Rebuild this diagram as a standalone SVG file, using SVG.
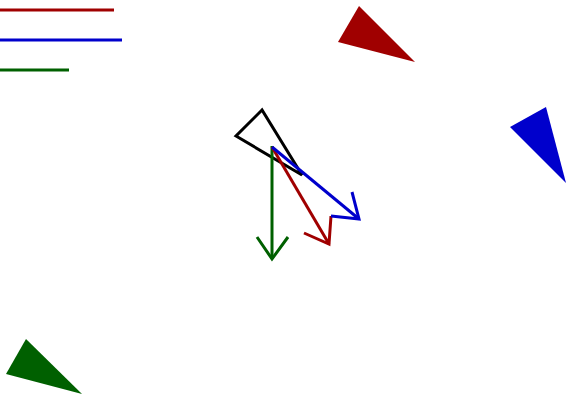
<svg xmlns="http://www.w3.org/2000/svg" width="566" height="395" viewBox="0 0 566 395">
<style>
.s{fill:none;stroke-width:3;stroke-linecap:butt;stroke-linejoin:miter}
.r{stroke:#a00000}.b{stroke:#0000cc}.g{stroke:#006000}.k{stroke:#000}
</style>
<rect width="566" height="395" fill="#fff"/>
<g id="legend">
<line class="s r" x1="0" y1="10" x2="114" y2="10"/>
<line class="s b" x1="0" y1="40" x2="122" y2="40"/>
<line class="s g" x1="0" y1="70" x2="69" y2="70"/>
</g>
<g id="red-triangle"><polygon points="359,6 338,42 415,62" fill="#a00000"/></g>
<g id="blue-triangle"><polygon points="546,107 510,127 566,183" fill="#0000cc"/></g>
<g id="green-triangle"><polygon points="26,339 6,374 82,394" fill="#006000"/></g>
<g id="black-triangle"><polygon class="s k" points="262,110 236,136 302,175"/></g>
<g id="connectors">
<line class="s g" x1="272" y1="146" x2="272" y2="259"/>
<polyline class="s g" points="257,237 272,259 288,237"/>
<line class="s r" x1="272" y1="147" x2="329" y2="244"/>
<polyline class="s r" points="304,233 329,244 331,216"/>
<line class="s b" x1="272" y1="147" x2="359" y2="219"/>
<polyline class="s b" points="352,192 359,219 331,216"/>
</g>
</svg>
